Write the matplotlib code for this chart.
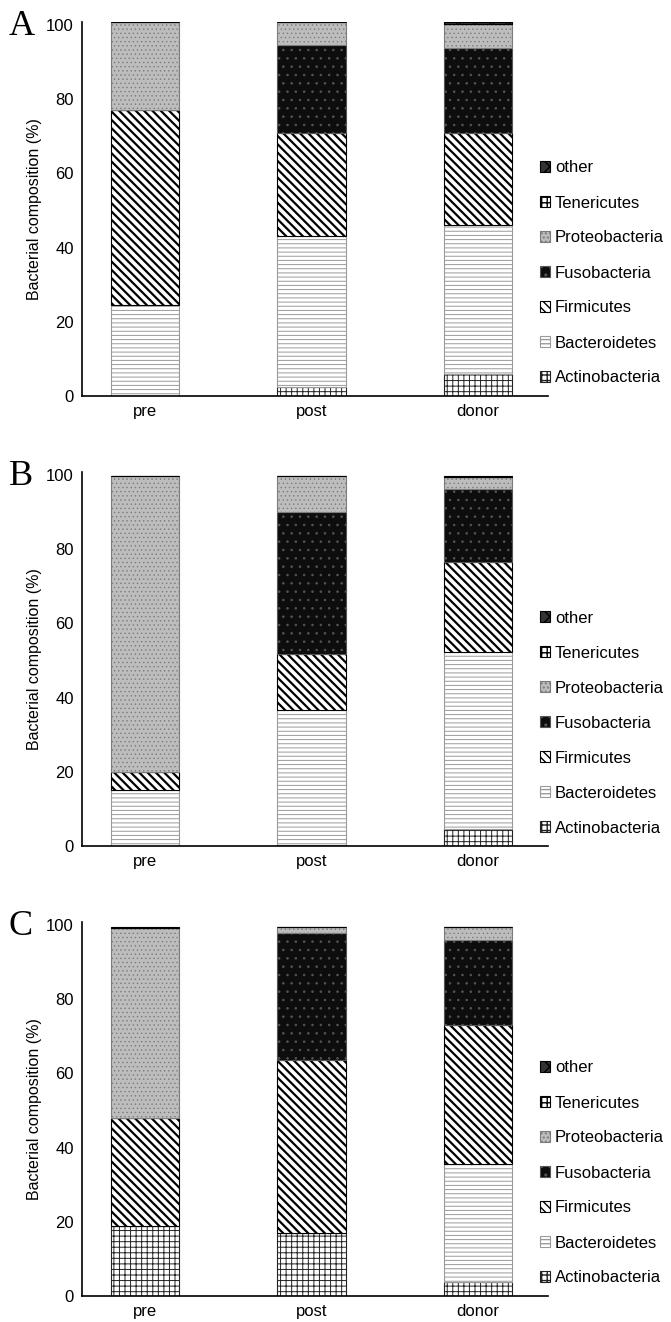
import matplotlib
matplotlib.use("Agg")
import matplotlib.pyplot as plt
import numpy as np

plt.rcParams['font.family'] = ['Liberation Sans', 'DejaVu Sans']

categories = ['pre', 'post', 'donor']
phyla = ['Actinobacteria', 'Bacteroidetes', 'Firmicutes', 'Fusobacteria',
         'Proteobacteria', 'Tenericutes', 'other']

# Panel A
A_actino = [0.0, 2.4, 5.9]
A_bact = [24.5, 40.7, 40.2]
A_firm = [52.6, 27.8, 24.8]
A_fuso = [0.0, 23.7, 22.9]
A_proteo = [23.7, 6.2, 6.5]
A_teneri = [0.0, 0.0, 0.0]
A_other = [0.0, 0.0, 0.5]

# Panel B
B_actino = [0.0, 0.4, 4.6]
B_bact = [15.1, 36.3, 47.7]
B_firm = [4.8, 15.1, 24.2]
B_fuso = [0.0, 38.2, 19.8]
B_proteo = [79.8, 9.7, 3.2]
B_teneri = [0.0, 0.0, 0.0]
B_other = [0.0, 0.0, 0.3]

# Panel C
C_actino = [18.9, 17.0, 3.8]
C_bact = [0.0, 0.0, 31.8]
C_firm = [29.1, 46.6, 37.4]
C_fuso = [0.0, 34.2, 23.0]
C_proteo = [51.2, 1.7, 3.5]
C_teneri = [0.0, 0.0, 0.0]
C_other = [0.3, 0.0, 0.0]

panels = {
    'A': [A_actino, A_bact, A_firm, A_fuso, A_proteo, A_teneri, A_other],
    'B': [B_actino, B_bact, B_firm, B_fuso, B_proteo, B_teneri, B_other],
    'C': [C_actino, C_bact, C_firm, C_fuso, C_proteo, C_teneri, C_other],
}

styles = {
    'Actinobacteria': dict(facecolor='white', edgecolor='#222222', hatch='+++', hlw=0.7),
    'Bacteroidetes': dict(facecolor='white', edgecolor='#9a9a9a', hatch='----', hlw=0.7),
    'Firmicutes': dict(facecolor='white', edgecolor='black', hatch='\\\\\\\\', hlw=1.6),
    'Fusobacteria': dict(facecolor='#0d0d0d', edgecolor='#555555', hatch='..', hlw=0.6),
    'Proteobacteria': dict(facecolor='#bdbdbd', edgecolor='#7c7c7c', hatch='....', hlw=0.5),
    'Tenericutes': dict(facecolor='white', edgecolor='black', hatch='+++', hlw=0.7),
    'other': dict(facecolor='#333333', edgecolor='black', hatch='xx', hlw=0.6),
}

W, H = 671, 1322
fig = plt.figure(figsize=(W / 100, H / 100), dpi=100)

x = np.arange(len(categories))
fs = 12

for i, (letter, series) in enumerate(panels.items()):
    bottom_px = 396 + 450 * i
    top_px = 22 + 450 * i
    ax = fig.add_axes([82 / W, 1 - bottom_px / H, (548 - 82) / W, (bottom_px - top_px) / H])
    bottom = np.zeros(len(categories))
    handles = []
    for name, vals in zip(phyla, series):
        st = styles[name]
        vals = np.array(vals)
        with plt.rc_context({'hatch.linewidth': st['hlw']}):
            bars = ax.bar(x, vals, width=0.41, bottom=bottom, facecolor=st['facecolor'],
                          edgecolor=st['edgecolor'], hatch=st['hatch'], linewidth=0.8,
                          label=name)
        handles.append(bars)
        bottom += vals
    ax.set_xlim(-0.378, 2.42)
    ax.set_ylim(0, 100.8)
    ax.set_yticks([0, 20, 40, 60, 80, 100])
    ax.set_xticks(x)
    ax.set_xticklabels(categories)
    ax.tick_params(axis='both', length=0, labelsize=fs)
    ax.tick_params(axis='y', pad=6)
    ax.tick_params(axis='x', pad=6)
    for s in ['top', 'right']:
        ax.spines[s].set_visible(False)
    ax.spines['left'].set_linewidth(1.2)
    ax.spines['bottom'].set_linewidth(1.2)
    fig.text(35 / W, 1 - ((bottom_px + top_px) / 2) / H, 'Bacterial composition (%)',
             rotation=90, ha='center', va='center', fontsize=11.5)
    fig.text(9 / W, 1 - (35 + 450 * i) / H, letter, fontsize=26,
             family=['Liberation Serif', 'DejaVu Serif'], ha='left', va='baseline')
    leg = ax.legend(handles[::-1], phyla[::-1], loc='center left',
                    bbox_to_anchor=((540 - 82) / 466, (396 - 273) / 374),
                    frameon=False, fontsize=fs, handlelength=0.6, handleheight=0.6,
                    handletextpad=0.3, labelspacing=1.2, borderpad=0, borderaxespad=0)

fig.savefig('out.png', dpi=100)
